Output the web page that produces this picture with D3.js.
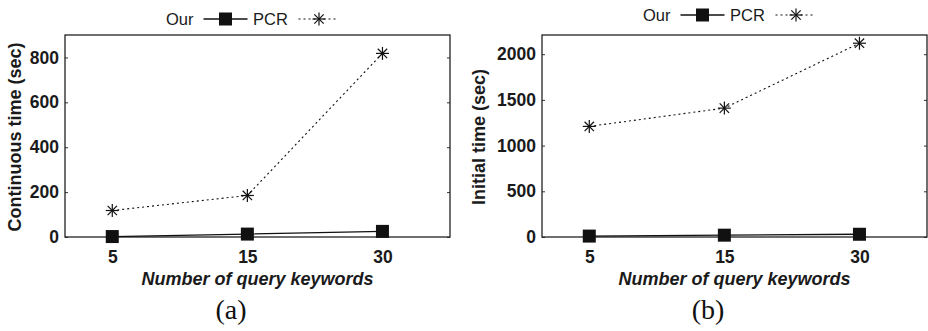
<!DOCTYPE html>
<html>
<head>
<meta charset="utf-8">
<script src="https://cdn.jsdelivr.net/npm/d3@7"></script>
<style>
  body { margin: 0; background: #fff; }
  svg { display: block; }
  .tick text { font-family: "Liberation Sans", Arial, sans-serif; font-weight: bold; font-size: 17.5px; fill: #1a1a1a; }
  .tick line { stroke: #333; }
  .axis path.domain { display: none; }
  .lbl { font-family: "Liberation Sans", Arial, sans-serif; fill: #1a1a1a; }
</style>
</head>
<body>
<div id="chart"></div>
<script>
// data
var keywords = ["5", "15", "30"];
var ourContinuous = [2, 13, 25];
var pcrContinuous = [118, 185, 818];
var ourInitial = [10, 20, 30];
var pcrInitial = [1210, 1410, 2120];
var yTicksA = [0, 200, 400, 600, 800];
var yTicksB = [0, 500, 1000, 1500, 2000];
var seriesNames = ["Our", "PCR"];

var svg = d3.select("#chart").append("svg")
  .attr("width", 928)
  .attr("height", 331);

var panels = [
  { left: 65, right: 450, top: 35, bottom: 237, yMax: 900, ticks: yTicksA,
    our: ourContinuous, pcr: pcrContinuous, ylabel: "Continuous time (sec)",
    ylabelX: 15, legendY: 19, tag: "(a)", tagX: 231 },
  { left: 542, right: 927, top: 35, bottom: 237, yMax: 2210, ticks: yTicksB,
    our: ourInitial, pcr: pcrInitial, ylabel: "Initial time (sec)",
    ylabelX: 479, legendY: 15, tag: "(b)", tagX: 708 }
];

// asterisk marker: + and x overlaid
function star(g, cx, cy, r) {
  var d = r * 0.72;
  var segs = [[0, -r, 0, r], [-r, 0, r, 0], [-d, -d, d, d], [-d, d, d, -d]];
  segs.forEach(function(s) {
    g.append("line")
      .attr("x1", cx + s[0]).attr("y1", cy + s[1])
      .attr("x2", cx + s[2]).attr("y2", cy + s[3])
      .attr("stroke", "#111").attr("stroke-width", 1.2);
  });
}

panels.forEach(function(p) {
  var g = svg.append("g");

  var x = d3.scaleLinear()
    .domain([-0.35, 2.5])
    .range([p.left, p.right]);

  var y = d3.scaleLinear()
    .domain([0, p.yMax])
    .range([p.bottom, p.top]);

  // left axis, ticks pointing inward
  g.append("g")
    .attr("class", "axis")
    .attr("transform", "translate(" + p.left + ",0)")
    .call(d3.axisLeft(y).tickValues(p.ticks).tickSize(-3).tickPadding(6)
      .tickFormat(d3.format("d")));

  // right side ticks, no labels
  g.append("g")
    .attr("class", "axis")
    .attr("transform", "translate(" + p.right + ",0)")
    .call(d3.axisRight(y).tickValues(p.ticks).tickSize(-3).tickFormat(""));

  // bottom labels, no ticks
  g.append("g")
    .attr("class", "axis")
    .attr("transform", "translate(0," + p.bottom + ")")
    .call(d3.axisBottom(x).tickValues([0, 1, 2]).tickSize(0).tickPadding(14)
      .tickFormat(function(i) { return keywords[i]; }));

  // frame
  g.append("rect")
    .attr("x", p.left).attr("y", p.top)
    .attr("width", p.right - p.left).attr("height", p.bottom - p.top)
    .attr("fill", "none").attr("stroke", "#222").attr("stroke-width", 1.3);

  var line = d3.line()
    .x(function(d, i) { return x(i); })
    .y(function(d) { return y(d); });

  // PCR dotted line
  g.append("path")
    .datum(p.pcr)
    .attr("d", line)
    .attr("fill", "none").attr("stroke", "#111")
    .attr("stroke-width", 1.1).attr("stroke-dasharray", "2,3");

  p.pcr.forEach(function(v, i) { star(g, x(i), y(v), 6.5); });

  // Our solid line
  g.append("path")
    .datum(p.our)
    .attr("d", line)
    .attr("fill", "none").attr("stroke", "#111").attr("stroke-width", 1.3);

  g.selectAll(".sq")
    .data(p.our)
    .enter().append("rect")
    .attr("x", function(d, i) { return x(i) - 6.5; })
    .attr("y", function(d) { return y(d) - 6.5; })
    .attr("width", 13).attr("height", 13)
    .attr("fill", "#111");

  // y axis title
  g.append("text")
    .attr("class", "lbl")
    .attr("transform", "translate(" + (p.ylabelX + 6) + "," + ((p.top + p.bottom) / 2 + 1) + ")rotate(-90)")
    .style("text-anchor", "middle")
    .style("font-weight", "bold")
    .style("font-size", "18px")
    .text(p.ylabel);

  // x axis title
  g.append("text")
    .attr("class", "lbl")
    .attr("x", (p.left + p.right) / 2)
    .attr("y", p.bottom + 48)
    .style("text-anchor", "middle")
    .style("font-weight", "bold")
    .style("font-style", "italic")
    .style("font-size", "18px")
    .text("Number of query keywords");

  // panel tag
  g.append("text")
    .attr("x", p.tagX)
    .attr("y", 319)
    .style("text-anchor", "middle")
    .style("font-family", "'Liberation Serif', 'Times New Roman', serif")
    .style("font-size", "28px")
    .attr("fill", "#111")
    .text(p.tag);

  // legend
  var cx = (p.left + p.right) / 2 - 6;
  var ly = p.legendY;
  var lg = g.append("g").attr("class", "lbl").style("font-size", "16.5px");
  lg.append("text").attr("x", cx - 58).attr("y", ly + 6)
    .style("text-anchor", "end").text(seriesNames[0]);
  lg.append("line").attr("x1", cx - 48).attr("x2", cx - 4)
    .attr("y1", ly).attr("y2", ly).attr("stroke", "#111").attr("stroke-width", 1.3);
  lg.append("rect").attr("x", cx - 26 - 6.5).attr("y", ly - 6.5)
    .attr("width", 13).attr("height", 13).attr("fill", "#111");
  lg.append("text").attr("x", cx + 1.5).attr("y", ly + 6).text(seriesNames[1]);
  lg.append("line").attr("x1", cx + 47).attr("x2", cx + 87)
    .attr("y1", ly).attr("y2", ly).attr("stroke", "#111")
    .attr("stroke-width", 1.1).attr("stroke-dasharray", "2,3");
  star(lg, cx + 67.5, ly, 6.5);
});
</script>
</body>
</html>
